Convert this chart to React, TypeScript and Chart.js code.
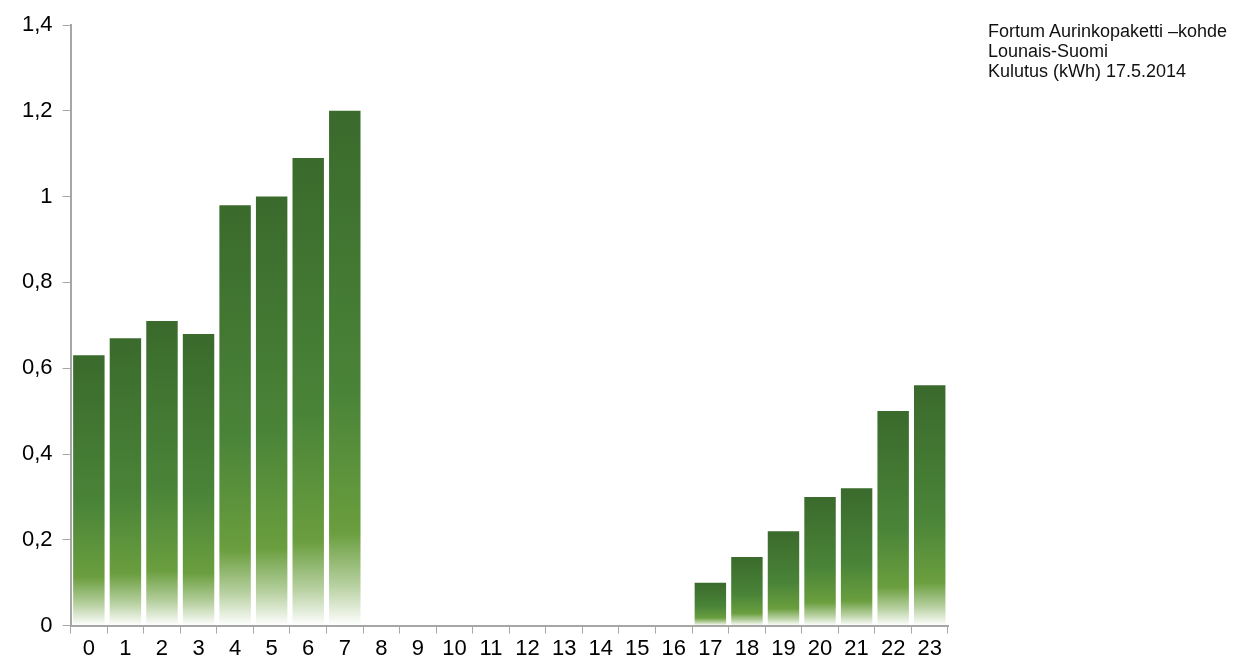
import React, { useEffect, useRef } from "react";
import { Chart, registerables } from "chart.js";

Chart.register(...registerables);

const hours = ["0","1","2","3","4","5","6","7","8","9","10","11","12","13","14","15","16","17","18","19","20","21","22","23"];
const usage = [0.63, 0.67, 0.71, 0.68, 0.98, 1.0, 1.09, 1.2, 0, 0, 0, 0, 0, 0, 0, 0, 0, 0.1, 0.16, 0.22, 0.3, 0.32, 0.5, 0.56];
const titleLines = ["Fortum Aurinkopaketti \u2013kohde", "Lounais-Suomi", "Kulutus (kWh) 17.5.2014"];

const App = () => {
  const chartRef = useRef<HTMLCanvasElement>(null);

  useEffect(() => {
    const ctx = chartRef.current!.getContext("2d")!;
    const myChart = new Chart(ctx, {
      type: "bar",
      data: {
        labels: hours,
        datasets: [
          {
            data: usage,
            barPercentage: 0.86,
            categoryPercentage: 1,
            backgroundColor: (c: any) => {
              const chart = c.chart;
              const y = chart.scales?.y;
              if (!chart.chartArea || !y || c.raw == null) return "#4a7f35";
              const top = y.getPixelForValue(c.raw);
              const base = y.getPixelForValue(0);
              if (base - top < 1) return "#4a7f35";
              const g = chart.ctx.createLinearGradient(0, top, 0, base);
              g.addColorStop(0, "#3a6a2c");
              g.addColorStop(0.55, "#4a8438");
              g.addColorStop(0.82, "#6a9e3e");
              g.addColorStop(0.92, "#b5cf9e");
              g.addColorStop(1, "#ffffff");
              return g;
            },
          },
        ],
      },
      options: {
        animation: false,
        responsive: false,
        layout: { padding: { top: 25, right: 302, bottom: 4, left: 12 } },
        plugins: { legend: { display: false }, tooltip: { enabled: false } },
        scales: {
          x: {
            grid: { drawOnChartArea: false, color: "#a6a6a6", tickLength: 8 },
            border: { color: "#a6a6a6", width: 2 },
            ticks: { color: "#000", font: { family: "Liberation Sans", size: 22 }, maxRotation: 0, autoSkip: false, padding: 2 },
          },
          y: {
            min: 0,
            max: 1.4,
            grid: { drawOnChartArea: false, color: "#a6a6a6", tickLength: 8 },
            border: { color: "#a6a6a6", width: 2 },
            ticks: {
              stepSize: 0.2,
              color: "#000",
              padding: 10,
              font: { family: "Liberation Sans", size: 22 },
              callback: (v: any) => String(Math.round(Number(v) * 10) / 10).replace(".", ","),
            },
          },
        },
      },
    });
    return () => {
      myChart.destroy();
    };
  }, []);

  return (
    <div style={{ position: "absolute", left: 0, top: 0, width: 1250, height: 668, background: "#fff" }}>
      <canvas ref={chartRef} width={1250} height={668}></canvas>
      <div style={{ position: "absolute", left: 988, top: 21, fontFamily: "Liberation Sans", fontSize: 18, lineHeight: "20px", color: "#111" }}>
        {titleLines.map((t) => (
          <div key={t}>{t}</div>
        ))}
      </div>
    </div>
  );
};

export default App;
